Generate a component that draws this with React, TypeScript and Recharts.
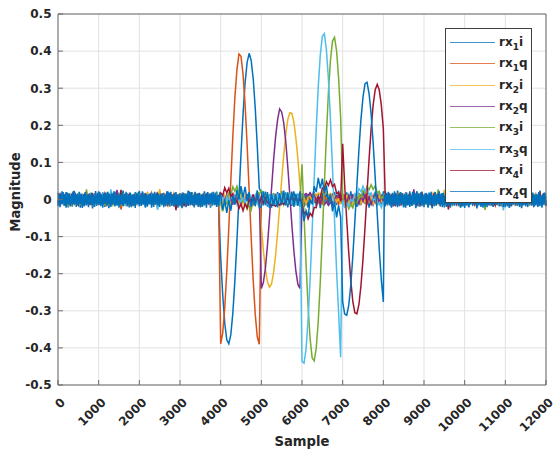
import { CartesianGrid, Line, LineChart, ReferenceLine, XAxis, YAxis } from "recharts";

const X_TICKS = [0, 1000, 2000, 3000, 4000, 5000, 6000, 7000, 8000, 9000, 10000, 11000, 12000];
const Y_TICKS = [-0.5, -0.4, -0.3, -0.2, -0.1, 0, 0.1, 0.2, 0.3, 0.4, 0.5];

// quiet stretches, one value per 50 samples: 0-3950 before the bursts, 8050-12000 after
const QUIET_A = [
  .018, -.016, .022, -.012, .020, -.021, .014, -.019, .023, -.011,
  .017, -.022, .013, -.018, .021, -.014, .016, -.024, .012, -.017,
  .022, -.013, .019, -.020, .015, -.023, .018, -.012, .021, -.016,
  .014, -.019, .024, -.015, .017, -.021, .012, -.018, .020, -.013,
  .023, -.017, .015, -.022, .019, -.012, .016, -.020, .013, -.024,
  .021, -.015, .018, -.011, .022, -.019, .014, -.016, .020, -.013,
  .017, -.023, .012, -.018, .024, -.014, .019, -.021, .015, -.017,
  .013, -.020, .022, -.012, .018, -.022, .016, -.014, .021, -.019
];
const QUIET_D = [
  .020, -.014, .017, -.022, .013, -.018, .024, -.016, .012, -.021,
  .019, -.013, .022, -.017, .015, -.023, .014, -.019, .021, -.012,
  .016, -.020, .013, -.024, .018, -.015, .022, -.014, .017, -.021,
  .012, -.018, .020, -.013, .023, -.016, .015, -.022, .019, -.017,
  .014, -.021, .018, -.012, .016, -.024, .021, -.015, .013, -.019,
  .022, -.016, .012, -.020, .017, -.014, .023, -.018, .015, -.013,
  .019, -.022, .016, -.012, .020, -.017, .014, -.023, .018, -.015,
  .021, -.013, .017, -.019, .012, -.020, .024, -.016, .015, -.018
];
const QUIET_B = [
  -.010, .014, -.006, .009, -.018, .012, -.003, .016, -.011, .005,
  -.014, .008, .013, -.007, .010, -.015, .004, -.009, .017, -.012,
  .006, -.004, .011, -.016, .009, -.002, .015, -.013, .007, -.008,
  .012, -.027, .005, .010, -.006, .014, -.011, .003, -.017, .008,
  -.009, .016, -.005, .011, -.013, .002, .018, -.010, .006, -.014,
  .009, -.007, .013, -.003, -.016, .012, -.008, .015, -.004, .010,
  -.012, .007, -.018, .011, -.002, .014, -.009, .006, -.015, .017,
  -.005, .008, -.013, .012, -.010, .004, .016, -.011, .009, -.006
];
const QUIET_E = [
  .005, -.011, .016, -.008, .003, -.013, .012, -.017, .009, -.004,
  .014, -.006, .010, -.015, .007, -.001, .018, -.012, .004, -.009,
  .011, -.014, .006, -.003, .015, -.010, .008, -.016, .013, -.005,
  .002, -.012, .017, -.007, .010, -.013, .004, -.018, .012, -.006,
  .009, -.011, .014, -.002, .016, -.009, .005, -.014, .011, -.008,
  .028, -.004, .007, -.012, .003, -.015, .013, -.007, .010, -.011,
  .006, -.017, .015, -.003, .012, -.010, .008, -.013, .004, -.006,
  .016, -.009, .011, -.015, .002, -.012, .014, -.005, .009, -.018
];
const QUIET_F = [
  -.006, .013, -.010, .004, -.016, .011, -.002, .015, -.008, .009,
  -.013, .006, -.018, .012, -.005, .010, -.011, .017, -.003, .007,
  -.014, .008, -.009, .016, -.001, .012, -.015, .005, -.010, .026,
  -.007, .003, -.012, .014, -.004, .011, -.017, .009, -.006, .013,
  -.011, .016, -.003, .008, -.014, .002, -.009, .015, -.012, .006,
  -.008, .012, -.016, .010, -.005, .018, -.011, .004, -.013, .009,
  -.002, .014, -.010, .007, -.017, .011, -.006, .013, -.009, .003,
  -.015, .010, -.004, .016, -.012, .008, -.007, .012, -.014, .005
];
const QUIET_G = [
  .010, -.005, .014, -.012, .007, -.018, .011, -.003, .016, -.009,
  .004, -.014, .012, -.007, .027, -.010, .006, -.015, .009, -.002,
  .013, -.011, .005, -.016, .017, -.006, .010, -.013, .003, -.008,
  .015, -.004, .011, -.017, .008, -.010, .014, -.005, .012, -.015,
  .006, -.009, .018, -.012, .002, -.007, .013, -.016, .010, -.003,
  .016, -.011, .004, -.013, .009, -.006, .015, -.018, .007, -.010,
  .012, -.002, .017, -.009, .005, -.014, .011, -.007, .014, -.012,
  .003, -.016, .010, -.005, .013, -.011, .008, -.004, .018, -.013
];
const QUIET_I = [
  .007, -.010, .004, -.012, .009, -.005, .013, -.008, .003, -.011,
  .010, -.006, .014, -.009, .005, -.013, .008, -.003, .011, -.007,
  .006, -.014, .012, -.004, .009, -.010, .027, -.006, .004, -.012,
  .011, -.008, .005, -.013, .010, -.002, .012, -.009, .007, -.011,
  .003, -.010, .013, -.006, .008, -.014, .011, -.005, .009, -.028,
  .012, -.007, .004, -.010, .014, -.008, .006, -.012, .010, -.003,
  .009, -.013, .007, -.005, .012, -.010, .003, -.011, .015, -.006,
  .008, -.012, .005, -.009, .011, -.004, .013, -.010, .006, -.008
];
const QUIET_J = [
  -.009, .012, -.005, .010, -.013, .006, -.011, .014, -.007, .004,
  -.012, .009, -.003, .013, -.010, .007, -.015, .011, -.006, .008,
  -.004, .012, -.009, .005, -.013, .010, -.007, .014, -.011, .003,
  -.008, .026, -.012, .006, -.010, .013, -.005, .009, -.014, .007,
  -.011, .004, -.008, .012, -.006, .010, -.013, .005, -.009, .015,
  -.003, .011, -.010, .007, -.012, .008, -.005, .013, -.029, .006,
  -.010, .009, -.014, .004, -.007, .012, -.011, .008, -.004, .010,
  -.013, .006, -.009, .014, -.008, .011, -.006, .003, -.012, .009
];

// rx4q is drawn last and forms the solid blue floor, so its quiet parts are read every 25 samples:
// 0-3975 and 8025-12000
const RX4Q_QUIET_PRE = [
  -.018, .014, -.021, .016, -.012, .020, -.017, .013, -.022, .019,
  -.014, .017, -.019, .012, -.016, .022, -.013, .018, -.020, .015,
  -.017, .021, -.012, .016, -.023, .014, -.018, .020, -.015, .013,
  -.021, .017, -.014, .019, -.016, .012, -.020, .023, -.013, .018,
  -.015, .020, -.018, .014, -.022, .016, -.012, .019, -.017, .021,
  -.013, .015, -.020, .018, -.014, .022, -.019, .012, -.016, .017,
  -.022, .013, -.015, .020, -.018, .016, -.012, .021, -.019, .014,
  -.016, .019, -.021, .013, -.017, .015, -.023, .018, -.012, .020,
  -.019, .012, -.016, .022, -.014, .017, -.020, .015, -.018, .013,
  -.012, .018, -.022, .016, -.015, .021, -.013, .019, -.017, .014,
  -.020, .016, -.013, .017, -.021, .012, -.018, .022, -.015, .019,
  -.014, .021, -.017, .013, -.019, .018, -.016, .014, -.022, .015,
  -.018, .013, -.020, .019, -.012, .016, -.021, .017, -.014, .022,
  -.016, .020, -.015, .012, -.018, .021, -.013, .016, -.020, .018,
  -.021, .014, -.019, .017, -.016, .013, -.022, .020, -.012, .015,
  -.013, .019, -.017, .021, -.015, .018, -.020, .012, -.019, .016
];
const RX4Q_QUIET_POST = [
  .014, -.019, .017, -.013, .021, -.016, .012, -.020, .018, -.015,
  .022, -.014, .016, -.021, .013, -.018, .020, -.012, .017, -.019,
  .015, -.022, .019, -.016, .014, -.020, .012, -.017, .021, -.013,
  .018, -.015, .023, -.019, .016, -.012, .020, -.018, .013, -.021,
  .017, -.013, .015, -.022, .019, -.016, .021, -.014, .012, -.018,
  .020, -.017, .014, -.012, .022, -.019, .016, -.021, .018, -.015,
  .013, -.020, .017, -.016, .012, -.022, .019, -.014, .021, -.017,
  .016, -.012, .020, -.018, .015, -.021, .013, -.019, .017, -.023,
  .019, -.016, .012, -.020, .018, -.014, .022, -.017, .015, -.013,
  .021, -.018, .016, -.015, .013, -.020, .017, -.022, .014, -.019,
  .012, -.021, .018, -.013, .020, -.017, .015, -.016, .022, -.014,
  .017, -.015, .021, -.019, .014, -.012, .018, -.020, .016, -.021,
  .015, -.018, .013, -.022, .019, -.016, .020, -.013, .012, -.017,
  .022, -.014, .017, -.020, .016, -.019, .014, -.015, .021, -.018,
  .018, -.020, .015, -.012, .023, -.017, .019, -.021, .013, -.016,
  .014, -.017, .020, -.018, .012, -.022, .016, -.014, .019, -.015
];

// samples 4000-8000 every 50: rx1 transmits 4000-4950, rx2 5000-5950, rx3 6000-6950, rx4 7000-8000
const RX1I_BURST = [
  -.156, -.256, -.333, -.378, -.389, -.364, -.305, -.218, -.112, .006, .123, .229, .314, .369, .394, .375, .326, .247, .145, .030,
  .018, -.016, .021, -.019, .014, -.022, .017, -.013, .020, -.018, .023, -.015, .019, -.021, .012, -.017, .022, -.014, .016, -.020,
  .017, -.020, .014, -.022, .019, -.013, .021, -.017, .015, -.023, .018, -.014, .022, -.016, .013, -.019, .020, -.015, .024, -.012,
  .016, -.021, .019, -.014, .022, -.017, .013, -.020, .018, -.015, .023, -.012, .017, -.022, .014, -.018, .021, -.016, .019, -.013, .020
];
const RX1Q_BURST = [
  -.389, -.360, -.293, -.195, -.076, .051, .172, .276, .350, .392, .386, .338, .257, .149, .025, -.101, -.217, -.309, -.370, -.390,
  -.010, .013, -.007, .011, -.014, .005, -.009, .016, -.012, .006, -.011, .008, -.015, .012, -.004, .010, -.013, .007, -.009, .014,
  -.012, .009, -.016, .011, -.006, .013, -.010, .015, -.008, .005, -.014, .012, -.003, .010, -.011, .017, -.007, .009, -.013, .006,
  -.009, .014, -.011, .007, -.015, .010, -.004, .012, -.013, .008, -.006, .016, -.010, .005, -.012, .011, -.008, .013, -.014, .009, -.007
];
const RX2I_BURST = [
  .006, -.010, .012, -.008, .004, -.013, .011, -.006, .015, -.009, .007, -.012, .010, -.004, .013, -.011, .008, -.014, .005, -.007,
  -.072, -.137, -.188, -.222, -.236, -.228, -.198, -.151, -.089, -.019, .053, .119, .175, .215, .234, .232, .209, .165, .107, .039,
  -.008, .004, -.012, .006, .010, -.003, .014, .008, .018, .012, .022, .015, .019, .010, .016, .004, .009, -.006, .003, -.010,
  .011, -.007, .013, -.010, .005, -.014, .009, -.004, .012, -.011, .007, -.008, .015, -.006, .010, -.013, .004, -.009, .012, -.005, .008
];
const RX2Q_BURST = [
  -.008, .011, -.005, .013, -.010, .007, -.014, .009, -.003, .012, -.011, .006, -.009, .015, -.007, .004, -.012, .010, -.006, .013,
  -.240, -.224, -.185, -.125, -.051, .028, .104, .168, .215, .244, .236, .207, .157, .089, .012, -.067, -.138, -.194, -.229, -.240,
  -.004, .012, .016, .010, .018, .006, .012, -.002, .008, -.010, .004, -.014, -.006, -.016, -.008, -.012, .002, .010, .006, .014,
  -.010, .007, -.013, .011, -.006, .014, -.009, .005, -.012, .010, -.004, .013, -.011, .008, -.015, .006, -.007, .012, -.010, .009, -.005
];
const RX3I_BURST = [
  -.010, -.032, -.008, -.012, .018, .012, .034, .022, .036, .014, .020, -.006, -.002, -.026, -.014, -.028, -.004, -.006, .022, .014,
  .024, .018, .008, -.004, .010, -.008, .012, -.006, .009, -.011, .005, -.013, .010, -.004, .014, -.009, .006, -.012, .008, -.003,
  .095, -.041, -.173, -.289, -.376, -.427, -.435, -.401, -.328, -.222, -.096, .041, .173, .289, .376, .427, .437, .401, .328, .222,
  .012, -.014, -.008, -.025, -.014, -.023, -.005, -.010, .010, .006, .025, .019, .035, .026, .040, .027, .036, .018, .022, .002, .008
];
const RX3Q_BURST = [
  -.006, .010, -.013, .007, -.009, .014, -.004, .011, -.012, .005, -.008, .013, -.010, .006, -.015, .009, -.003, .012, -.011, .008,
  .007, -.011, .004, -.014, .012, -.006, .009, -.010, .015, -.005, .011, -.013, .006, -.008, .013, -.009, .004, -.012, .010, -.007,
  -.437, -.441, -.403, -.324, -.214, -.083, .056, .190, .305, .390, .440, .447, .403, .324, .214, .083, -.056, -.190, -.305, -.425,
  -.002, -.020, -.010, -.018, .000, -.004, .016, .011, .029, .021, .036, .023, .031, .013, .018, -.002, .002, -.016, -.008, -.022, -.006
];
const RX4I_BURST = [
  .018, .010, .032, .018, .030, .008, .016, -.010, -.002, -.024, -.012, -.030, -.012, -.023, .000, -.008, .014, -.012, .016, -.014,
  .007, -.010, .004, -.008, -.012, -.016, -.014, -.018, -.012, -.015, -.008, -.013, -.004, .006, -.009, .011, -.005, .008, -.010, .004,
  -.013, -.039, -.033, -.052, -.037, -.045, -.021, -.022, .005, .005, .031, .027, .048, .038, .053, .035, .041, .017, .019, -.005,
  .150, .037, -.056, -.144, -.219, -.275, -.305, -.308, -.283, -.232, -.160, -.074, .019, .110, .191, .255, .296, .310, .295, .255, .191
];
const RX4Q_BURST = [
  .012, -.028, .000, -.036, -.002, -.030, .010, -.014, .026, .000, .036, .006, .034, -.004, .020, -.020, .006, -.018, .024, -.022,
  -.019, .022, -.015, .020, -.023, .016, -.018, .013, -.021, .017, -.014, .024, -.016, .019, -.012, .021, -.020, .015, -.017, .022,
  -.022, -.058, -.030, -.046, -.002, -.010, .036, .020, .058, .030, .056, .016, .038, -.006, .014, -.032, -.006, -.048, -.016, -.048,
  -.276, -.309, -.312, -.285, -.230, -.152, -.059, .039, .134, .216, .276, .312, .316, .285, .230, .152, .059, -.039, -.134, -.216, -.276
];

type Segment = { from: number; step: number; values: number[] };

const pre = (values: number[]): Segment => ({ from: 0, step: 50, values });
const burst = (values: number[]): Segment => ({ from: 4000, step: 50, values });
const post = (values: number[]): Segment => ({ from: 8050, step: 50, values });

const SERIES = [
  { key: "rx1i", ch: "1", part: "i", color: "#0072BD", parts: [pre(QUIET_A), burst(RX1I_BURST), post(QUIET_D)] },
  { key: "rx1q", ch: "1", part: "q", color: "#D95319", parts: [pre(QUIET_B), burst(RX1Q_BURST), post(QUIET_E)] },
  { key: "rx2i", ch: "2", part: "i", color: "#EDB120", parts: [pre(QUIET_E), burst(RX2I_BURST), post(QUIET_F)] },
  { key: "rx2q", ch: "2", part: "q", color: "#7E2F8E", parts: [pre(QUIET_F), burst(RX2Q_BURST), post(QUIET_G)] },
  { key: "rx3i", ch: "3", part: "i", color: "#77AC30", parts: [pre(QUIET_G), burst(RX3I_BURST), post(QUIET_I)] },
  { key: "rx3q", ch: "3", part: "q", color: "#4DBEEE", parts: [pre(QUIET_I), burst(RX3Q_BURST), post(QUIET_J)] },
  { key: "rx4i", ch: "4", part: "i", color: "#A2142F", parts: [pre(QUIET_J), burst(RX4I_BURST), post(QUIET_B)] },
  {
    key: "rx4q", ch: "4", part: "q", color: "#0072BD",
    parts: [
      { from: 0, step: 25, values: RX4Q_QUIET_PRE },
      burst(RX4Q_BURST),
      { from: 8025, step: 25, values: RX4Q_QUIET_POST }
    ]
  }
];

const toPoints = (parts: Segment[]) =>
  parts.flatMap(p => p.values.map((v, k) => ({ sample: p.from + k * p.step, value: v })));

const FONT = "'DejaVu Sans', sans-serif";
const TEXT = "#262626";
const AXIS = "#6b6b6b";

function XTick({ x, y, payload }: any) {
  return (
    <g>
      <line x1={x} y1={y} x2={x} y2={y - 5} stroke={AXIS} />
      <text
        x={x + 8}
        y={y + 18}
        transform={`rotate(-45 ${x + 8} ${y + 18})`}
        textAnchor="end"
        fontFamily={FONT}
        fontWeight="bold"
        fontSize={12}
        fill={TEXT}
      >
        {payload.value}
      </text>
    </g>
  );
}

function YTick({ x, y, payload }: any) {
  return (
    <g>
      <line x1={x} y1={y} x2={x + 5} y2={y} stroke={AXIS} />
      <text x={x - 6.5} y={y} dy="0.36em" textAnchor="end" fontFamily={FONT} fontWeight="bold" fontSize={12} fill={TEXT}>
        {payload.value}
      </text>
    </g>
  );
}

function YTitle() {
  return (
    <text x={20} y={192} transform="rotate(-90 20 192)" textAnchor="middle" fontFamily={FONT} fontWeight="bold" fontSize={13.2} fill={TEXT}>
      Magnitude
    </text>
  );
}

function XTitle() {
  return (
    <text x={302} y={446} textAnchor="middle" fontFamily={FONT} fontWeight="bold" fontSize={13.2} fill={TEXT}>
      Sample
    </text>
  );
}

function LegendBox() {
  return (
    <div
      style={{
        position: "absolute",
        left: 445,
        top: 28,
        width: 87,
        height: 175,
        border: "1px solid #404040",
        background: "#fff",
        paddingTop: 3,
        boxSizing: "border-box"
      }}
    >
      {SERIES.map(s => (
        <div key={s.key} style={{ display: "flex", alignItems: "center", height: 21.3 }}>
          <div style={{ marginLeft: 4, width: 45, borderTop: `1px solid ${s.color}`, opacity: 0.75 }} />
          <span style={{ marginLeft: 4, fontFamily: FONT, fontWeight: "bold", fontSize: 12, color: TEXT, lineHeight: "12px" }}>
            rx<span style={{ fontSize: 9, position: "relative", top: 4 }}>{s.ch}</span>{s.part}
          </span>
        </div>
      ))}
    </div>
  );
}

export default function App() {
  return (
    <div style={{ position: "absolute", left: 0, top: 0, width: 555, height: 452, background: "#fff" }}>
      <LineChart width={555} height={452} margin={{ top: 14, right: 9, left: 0, bottom: 0 }}>
        <CartesianGrid stroke="#e1e1e1" />
        <XAxis
          dataKey="sample"
          type="number"
          domain={[0, 12000]}
          ticks={X_TICKS}
          interval={0}
          height={67}
          tickSize={0}
          tickMargin={0}
          tickLine={false}
          axisLine={{ stroke: AXIS }}
          tick={<XTick />}
          label={<XTitle />}
          allowDuplicatedCategory={false}
        />
        <YAxis
          type="number"
          domain={[-0.5, 0.5]}
          ticks={Y_TICKS}
          interval={0}
          width={58}
          tickSize={0}
          tickMargin={0}
          tickLine={false}
          axisLine={{ stroke: AXIS }}
          tick={<YTick />}
          label={<YTitle />}
        />
        {SERIES.map(s => (
          <Line
            key={s.key}
            name={s.key}
            data={toPoints(s.parts)}
            dataKey="value"
            stroke={s.color}
            strokeWidth={1.5}
            dot={false}
            isAnimationActive={false}
          />
        ))}
        <ReferenceLine y={0.5} stroke={AXIS} />
        <ReferenceLine x={12000} stroke={AXIS} />
      </LineChart>
      <LegendBox />
    </div>
  );
}
